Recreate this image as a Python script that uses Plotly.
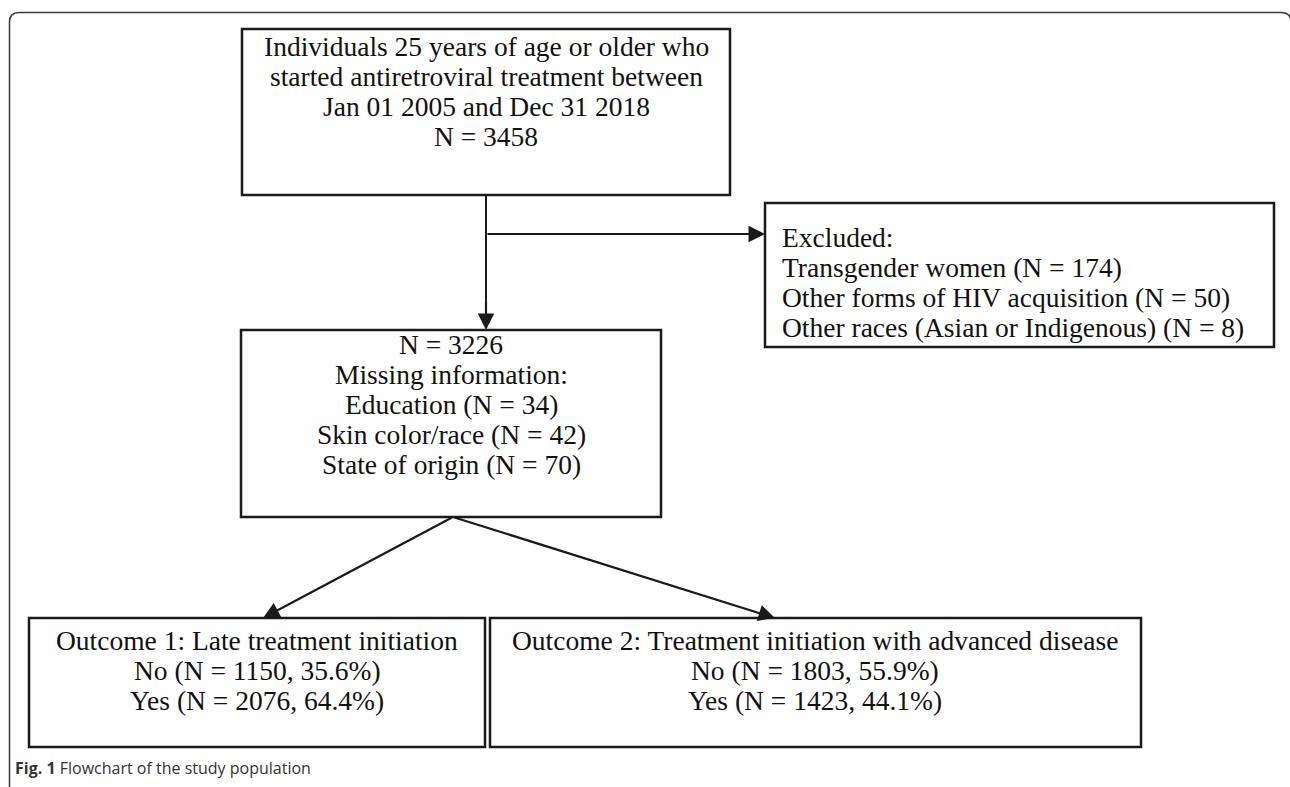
import plotly.graph_objects as go

# ---- content ----
top_lines = ["Individuals 25 years of age or older who",
             "started antiretroviral treatment between",
             "Jan 01 2005 and Dec 31 2018",
             "N = 3458"]
mid_lines = ["N = 3226", "Missing information:", "Education (N = 34)",
             "Skin color/race (N = 42)", "State of origin (N = 70)"]
excl_lines = ["Excluded:", "Transgender women (N = 174)",
              "Other forms of HIV acquisition (N = 50)",
              "Other races (Asian or Indigenous) (N = 8)"]
out1_lines = ["Outcome 1: Late treatment initiation",
              "No (N = 1150, 35.6%)", "Yes (N = 2076, 64.4%)"]
out2_lines = ["Outcome 2: Treatment initiation with advanced disease",
              "No (N = 1803, 55.9%)", "Yes (N = 1423, 44.1%)"]
caption_bold = "Fig. 1"
caption_text = "Flowchart of the study population"

# ---- layout geometry (x0, y0, x1, y1) ----
boxes = {
    "top": (242, 29, 730, 195),
    "mid": (241, 330, 661, 517),
    "excl": (765, 203, 1274, 347),
    "out1": (29, 618, 485, 747),
    "out2": (490, 618, 1141, 747),
}
# (x, first line y, alignment, lines)
text_pos = {
    "top": (486, 46, "center", top_lines),
    "mid": (451, 344, "center", mid_lines),
    "excl": (780, 237, "left", excl_lines),
    "out1": (257, 640, "center", out1_lines),
    "out2": (815, 640, "center", out2_lines),
}
LINE_STEP = 30

W, H = 1290, 787
fig = go.Figure()
fig.add_trace(go.Scatter(x=[0, W], y=[0, H], mode="markers",
                         marker=dict(opacity=0), hoverinfo="skip", showlegend=False))

shapes = []
shapes.append(dict(type="path", xref="x", yref="y",
                   path="M 9.5 800 L 9.5 22 Q 9.5 12.5 19 12.5 L 1281 12.5 Q 1291 12.5 1291 22 L 1291 800",
                   line=dict(color="#3a3a3a", width=1.5)))
for k, (x0, y0, x1, y1) in boxes.items():
    shapes.append(dict(type="rect", xref="x", yref="y", x0=x0, y0=y0, x1=x1, y1=y1,
                       line=dict(color="#1a1a1a", width=2.5), fillcolor="rgba(0,0,0,0)"))
shapes.append(dict(type="line", xref="x", yref="y", x0=486, y0=195, x1=486, y1=322,
                   line=dict(color="#1a1a1a", width=2)))

annotations = []
font = dict(family="Liberation Serif, Times New Roman, serif", size=27.5, color="#111111")
for k, (x, y, al, lines) in text_pos.items():
    for i, line in enumerate(lines):
        annotations.append(dict(x=x, y=y + i * LINE_STEP, xref="x", yref="y", text=line,
                                showarrow=False, align=al,
                                xanchor="left" if al == "left" else "center",
                                yanchor="middle", font=font))

def arrow(x0, y0, x1, y1):
    annotations.append(dict(x=x1, y=y1, ax=x0, ay=y0, xref="x", yref="y",
                            axref="x", ayref="y", text="", showarrow=True,
                            arrowhead=2, arrowsize=1.5, arrowwidth=2.2,
                            arrowcolor="#1a1a1a", standoff=0))

arrow(486, 300, 486, 330)
arrow(486, 234, 765, 234)
arrow(453, 517, 263, 618)
arrow(453, 517, 775, 618)

annotations.append(dict(x=13, y=768, xref="x", yref="y",
                        text=f"<b>{caption_bold}</b> {caption_text}",
                        showarrow=False, xanchor="left", yanchor="middle",
                        font=dict(family="Open Sans, Noto Sans, sans-serif", size=16, color="#333333")))

fig.update_layout(width=W, height=H, margin=dict(l=0, r=0, t=0, b=0),
                  paper_bgcolor="white", plot_bgcolor="white",
                  xaxis=dict(range=[0, W], visible=False, fixedrange=True),
                  yaxis=dict(range=[H, 0], visible=False, fixedrange=True),
                  shapes=shapes, annotations=annotations, showlegend=False)
fig.write_html("out.html", config={"displayModeBar": False},
               post_script="document.body.style.margin='0';document.body.style.overflow='hidden';")
